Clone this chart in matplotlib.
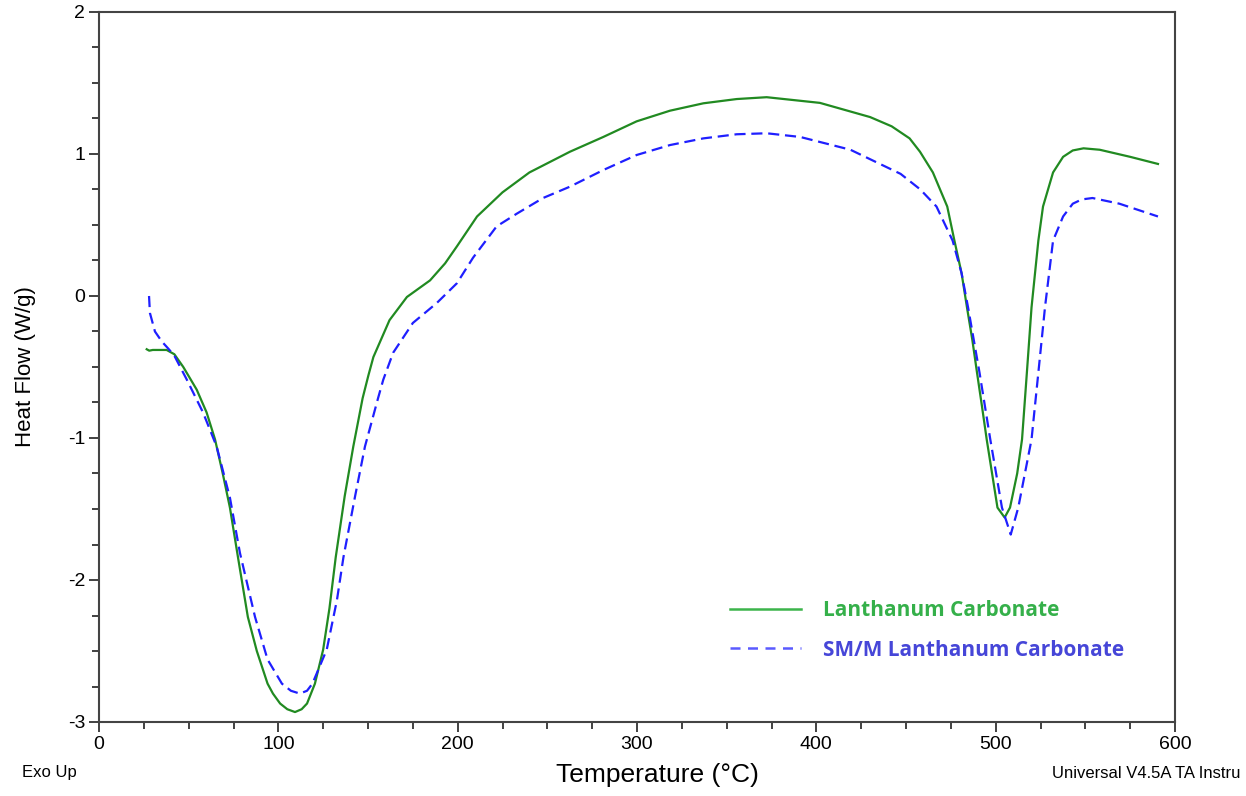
import matplotlib
matplotlib.use("Agg")
import matplotlib.pyplot as plt
from matplotlib.lines import Line2D
from matplotlib.ticker import MultipleLocator

# Lanthanum Carbonate (solid green)
t_la = [26.6, 28, 30, 37.7, 42, 47, 54.5, 60, 64.7, 69, 73, 77.5, 83, 88, 94, 97, 101, 105, 109.3,
        113, 116, 120.4, 125, 128.5, 132, 137, 141.8, 147, 150.2, 153, 162, 171.7, 184.6, 193,
        199.6, 210.8, 225, 240, 262.6, 281.2, 299.8, 318.4, 337, 355.6, 372.3, 402, 430, 442, 452,
        457.8, 465, 473, 477, 481, 484, 487, 489.6, 492.4, 495, 498, 501, 505, 508, 512, 514.7,
        517.4, 520, 523.8, 526.4, 532, 537.6, 543, 549, 558, 575, 590.5]
hf_la = [-0.375, -0.385, -0.38, -0.38, -0.41, -0.50, -0.66, -0.82, -1.01, -1.25, -1.49, -1.84,
         -2.26, -2.50, -2.73, -2.80, -2.87, -2.91, -2.93, -2.91, -2.87, -2.73, -2.49, -2.20,
         -1.84, -1.41, -1.06, -0.72, -0.56, -0.43, -0.17, -0.007, 0.11, 0.23, 0.35, 0.56, 0.73,
         0.87, 1.016, 1.12, 1.23, 1.305, 1.357, 1.387, 1.40, 1.36, 1.26, 1.195, 1.11, 1.016, 0.87,
         0.63, 0.39, 0.16, -0.08, -0.31, -0.54, -0.78, -1.01, -1.25, -1.49, -1.56, -1.49, -1.25,
         -1.01, -0.54, -0.08, 0.39, 0.63, 0.87, 0.98, 1.025, 1.04, 1.03, 0.98, 0.93]

# SM/M Lanthanum Carbonate (dashed blue)
t_sm = [27.9, 28.4, 31.2, 35, 38.6, 42, 49, 58, 65.6, 73, 78.6, 87, 94, 102, 107, 112, 116, 119,
        127, 132.7, 136.3, 142.8, 148.3, 155.6, 158.5, 164, 175, 188.3, 199.6, 208.6, 221.7, 233,
        247.6, 262.6, 281.2, 299.8, 318.4, 337, 355.6, 372.3, 391, 419, 447, 458, 467, 476, 481,
        484.6, 491, 497, 503.5, 508.4, 512.6, 520, 523.8, 527.5, 532, 537.6, 543, 548, 554, 569,
        590.5]
hf_sm = [0.0, -0.12, -0.25, -0.32, -0.37, -0.42, -0.59, -0.82, -1.06, -1.42, -1.81, -2.26, -2.56,
         -2.73, -2.78, -2.80, -2.78, -2.73, -2.49, -2.14, -1.84, -1.41, -1.06, -0.72, -0.59, -0.40,
         -0.19, -0.05, 0.09, 0.27, 0.49, 0.58, 0.69, 0.77, 0.887, 0.993, 1.063, 1.11, 1.139, 1.146,
         1.12, 1.03, 0.86, 0.75, 0.63, 0.39, 0.16, -0.08, -0.54, -1.01, -1.49, -1.68, -1.49, -1.01,
         -0.54, -0.08, 0.39, 0.56, 0.65, 0.68, 0.69, 0.65, 0.56]

labels = ["Lanthanum Carbonate", "SM/M Lanthanum Carbonate"]

plt.rcParams['font.family'] = ['Liberation Sans', 'DejaVu Sans']
plt.rcParams['axes.unicode_minus'] = False

fig = plt.figure(figsize=(12.46, 7.96), dpi=100)
ax = fig.add_axes([99/1246, 1-722/796, 1076/1246, 710/796])

ax.plot(t_la, hf_la, color="#218a21", lw=1.6, solid_joinstyle="round")
ax.plot(t_sm, hf_sm, color="#1f1fff", lw=1.6, linestyle=(0, (5, 2.6)))

ax.set_xlim(0, 600)
ax.set_ylim(-3, 2)
ax.xaxis.set_major_locator(MultipleLocator(100))
ax.xaxis.set_minor_locator(MultipleLocator(25))
ax.yaxis.set_major_locator(MultipleLocator(1))
ax.yaxis.set_minor_locator(MultipleLocator(0.25))
ax.tick_params(axis='both', which='major', direction='out', length=7, width=1.3, color="#333333",
               pad=3, labelsize=14)
ax.tick_params(axis='both', which='minor', direction='out', length=5, width=1.3, color="#333333")
for s in ax.spines.values():
    s.set_linewidth(1.5)
    s.set_color("#444444")

ax.set_xlabel("Temperature (°C)", fontsize=19)
ax.set_ylabel("Heat Flow (W/g)", fontsize=16)
ax.xaxis.set_label_coords((657-99)/1076, (722-775)/710)
ax.xaxis.label.set_va('center')
ax.yaxis.set_label_coords((25-99)/1076, 0.5)
ax.yaxis.label.set_va('center')

fig.text(22/1246, 1-773/796, "Exo Up", fontsize=12, va='center', ha='left')
fig.text(1052/1246, 1-773/796, "Universal V4.5A TA Instru", fontsize=12, va='center', ha='left')

handles = [Line2D([], [], color="#3cb44b", lw=1.8),
           Line2D([], [], color="#5a5aff", lw=1.8, linestyle=(0, (4, 3)))]
leg = ax.legend(handles, labels, loc='lower left', bbox_to_anchor=(0.569, 0.060),
                frameon=False, handlelength=3.4, handletextpad=1.05, labelspacing=0.9,
                prop={'family': 'Open Sans', 'weight': 'bold', 'size': 15})
leg.get_texts()[0].set_color("#35b04a")
leg.get_texts()[1].set_color("#4646d8")

fig.savefig("out.png", dpi=100)
